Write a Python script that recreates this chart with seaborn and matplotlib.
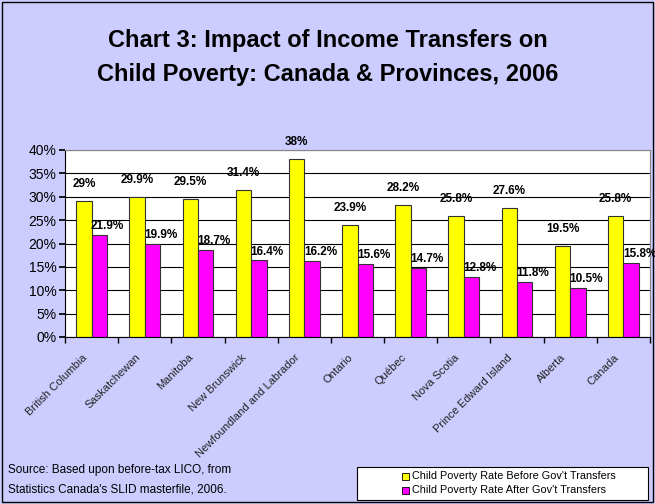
import matplotlib
matplotlib.use("Agg")
import matplotlib.pyplot as plt
import matplotlib.transforms as mtransforms
import seaborn as sns
import pandas as pd
import numpy as np
from matplotlib.patches import Rectangle

regions = ["British Columbia", "Saskatchewan", "Manitoba", "New Brunswick",
           "Newfoundland and Labrador", "Ontario", "Québec", "Nova Scotia",
           "Prince Edward Island", "Alberta", "Canada"]
before = [29.0, 29.9, 29.5, 31.4, 38.0, 23.9, 28.2, 25.8, 27.6, 19.5, 25.8]
after = [21.9, 19.9, 18.7, 16.4, 16.2, 15.6, 14.7, 12.8, 11.8, 10.5, 15.8]
before_labels = ["29%", "29.9%", "29.5%", "31.4%", "38%", "23.9%", "28.2%",
                 "25.8%", "27.6%", "19.5%", "25.8%"]
after_labels = ["21.9%", "19.9%", "18.7%", "16.4%", "16.2%", "15.6%", "14.7%",
                "12.8%", "11.8%", "10.5%", "15.8%"]
series = ["Child Poverty Rate Before Gov't Transfers",
          "Child Poverty Rate After Gov't Transfers"]
yticks = [0, 5, 10, 15, 20, 25, 30, 35, 40]

sns.set_theme(style="white")
plt.rcParams['font.family'] = ['Liberation Sans', 'DejaVu Sans']
plt.rcParams['text.color'] = 'black'
plt.rcParams['xtick.color'] = 'black'
plt.rcParams['ytick.color'] = 'black'

df = pd.DataFrame({
    "region": regions * 2,
    "value": before + after,
    "series": [series[0]] * len(regions) + [series[1]] * len(regions),
})

bg = "#CCCCFF"
fig = plt.figure(figsize=(6.55, 5.04), dpi=100, facecolor=bg)
ax = fig.add_axes([65 / 655, 1 - 337 / 504, (650 - 65) / 655, (337 - 150) / 504])
ax.set_facecolor("white")

sns.barplot(data=df, x="region", y="value", hue="series", order=regions,
            hue_order=series, palette=["#FFFF00", "#FF00FF"], width=0.58,
            edgecolor="#333333", linewidth=0.8, saturation=1, ax=ax,
            legend=False)

ax.set_ylim(0, 40)
ax.set_yticks(yticks)
ax.set_yticklabels([f"{t}%" for t in yticks], fontsize=10)
ax.yaxis.grid(True, color="black", linewidth=0.8)
ax.set_axisbelow(True)
ax.set_xlim(-0.5, len(regions) - 0.5)
ax.set_xlabel("")
ax.set_ylabel("")
ax.set_xticks(np.arange(len(regions)))
ax.set_xticklabels(regions, rotation=45, ha="right", rotation_mode="anchor",
                   fontsize=8, color="#222222")
ax.tick_params(axis="x", length=0, pad=11)
shift = mtransforms.ScaledTranslation(-7 / 72, 0, fig.dpi_scale_trans)
for lbl in ax.get_xticklabels():
    lbl.set_transform(lbl.get_transform() + shift)
ax.set_xticks(np.arange(len(regions) + 1) - 0.5, minor=True)
ax.tick_params(axis="x", which="minor", length=4, direction="out", bottom=True, color="black")
ax.tick_params(axis="y", length=4, direction="out", left=True, color="black", pad=2)
for s in ["top", "right"]:
    ax.spines[s].set_color("#888888")
    ax.spines[s].set_linewidth(0.8)
for s in ["left", "bottom"]:
    ax.spines[s].set_color("black")
    ax.spines[s].set_linewidth(0.8)

containers = ax.containers
for rect, lab in zip(containers[0], before_labels):
    ax.annotate(lab, (rect.get_x() + rect.get_width() / 2, rect.get_height()),
                xytext=(0, 8), textcoords="offset points", ha="center", va="bottom",
                fontsize=8.5, fontweight="bold")
for rect, lab in zip(containers[1], after_labels):
    ax.annotate(lab, (rect.get_x() + rect.get_width() / 2, rect.get_height()),
                xytext=(6, 2), textcoords="offset points", ha="center", va="bottom",
                fontsize=8.5, fontweight="bold")

fig.text(0.5, 1 - 41 / 504, "Chart 3: Impact of Income Transfers on",
         ha="center", va="center", fontsize=17, fontweight="bold")
fig.text(0.5, 1 - 75 / 504, "Child Poverty: Canada & Provinces, 2006",
         ha="center", va="center", fontsize=17, fontweight="bold")

fig.text(8 / 655, 1 - 470 / 504, "Source: Based upon before-tax LICO, from",
         ha="left", va="center", fontsize=8.5)
fig.text(8 / 655, 1 - 489 / 504, "Statistics Canada's SLID masterfile, 2006.",
         ha="left", va="center", fontsize=8.5)

# legend box
fig.patches.append(Rectangle((357 / 655, 1 - 500 / 504), (648 - 357) / 655, 33 / 504,
                             transform=fig.transFigure, facecolor="white",
                             edgecolor="black", linewidth=0.8))
for i, (lab, col) in enumerate(zip(series, ["#FFFF00", "#FF00FF"])):
    yc = 1 - (476 + i * 14) / 504
    fig.patches.append(Rectangle((402 / 655, yc - 3.5 / 504), 7 / 655, 7 / 504,
                                 transform=fig.transFigure, facecolor=col,
                                 edgecolor="black", linewidth=0.6))
    fig.text(412 / 655, yc, lab, ha="left", va="center", fontsize=7.8)

fig.patches.append(Rectangle((0.003, 0.003), 0.994, 0.994, transform=fig.transFigure,
                             facecolor="none", edgecolor="black", linewidth=1))

fig.savefig("out.png", dpi=100, facecolor=bg)
